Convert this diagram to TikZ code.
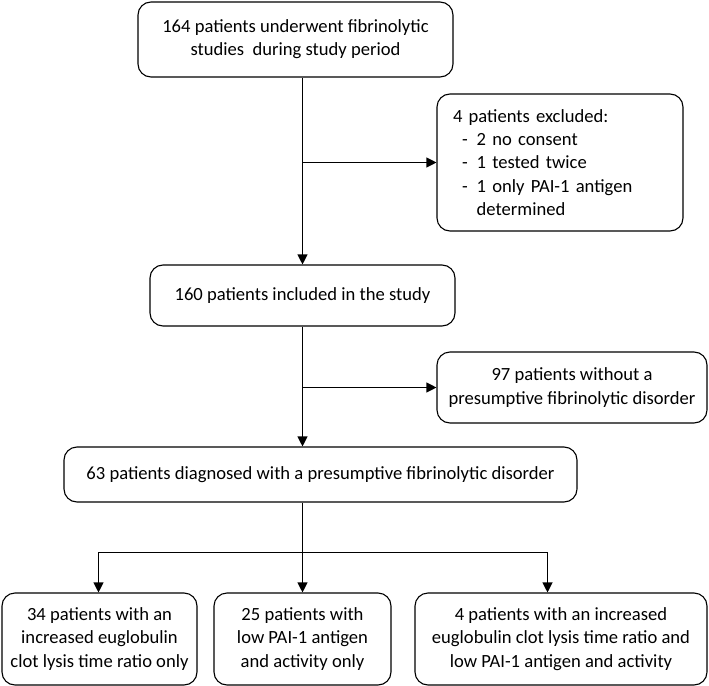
\documentclass[tikz,border=0pt]{standalone}
\usepackage{fontspec}
\setmainfont{Carlito}
\usetikzlibrary{arrows.meta}
\begin{document}
\begin{tikzpicture}[x=1bp,y=-1bp,
  box/.style={draw, line width=1.1bp, rounded corners=13bp, align=center, inner sep=0pt,
    font=\fontsize{18.6bp}{23.2bp}\selectfont},
  arr/.style={line width=1.1bp, -{Triangle[length=10bp,width=10bp]}},
  ln/.style={line width=1.1bp}]
\useasboundingbox (0,0) rectangle (709,686);
\node[box, minimum width=315bp, minimum height=75bp] (b1) at (295.5,39.5)
  {164 patients underwent fibrinolytic\\studies\ \ during study period};
\node[box, minimum width=246bp, minimum height=137bp, text width=214bp, inner xsep=16bp, align=left] (b3) at (560,162.5)
  {4 patients excluded:\\
   \hspace*{9bp}-\hspace{9bp}2 no consent\\
   \hspace*{9bp}-\hspace{9bp}1 tested twice\\
   \hspace*{9bp}-\hspace{9bp}1 only PAI-1 antigen\\
   \hspace*{9bp}\phantom{-}\hspace{9bp}determined};
\node[box, minimum width=305bp, minimum height=61bp] (b2) at (302.5,295.5)
  {160 patients included in the study};
\node[box, minimum width=270bp, minimum height=71bp] (b5) at (572,387.5)
  {97 patients without a\\presumptive fibrinolytic disorder};
\node[box, minimum width=513bp, minimum height=55bp] (b4) at (320.5,474.5)
  {63 patients diagnosed with a presumptive fibrinolytic disorder};
\node[box, minimum width=195bp, minimum height=92bp] (b6) at (99.5,639)
  {34 patients with an\\increased euglobulin\\clot lysis time ratio only};
\node[box, minimum width=177bp, minimum height=92bp] (b7) at (302.5,639)
  {25 patients with\\low PAI-1 antigen\\and activity only};
\node[box, minimum width=292bp, minimum height=92bp] (b8) at (561,639)
  {4 patients with an increased\\euglobulin clot lysis time ratio and\\low PAI-1 antigen and activity};
\coordinate (j) at (302.5,552.5);
\coordinate (jl) at (98.5,552.5);
\coordinate (jr) at (547.5,552.5);
\draw[arr] (b1.south -| b2.north) -- (b2.north);
\draw[arr] (b3.west -| b2.north) -- (b3.west);
\draw[arr] (b2.south) -- (b2.south |- b4.north);
\draw[arr] (b5.west -| b2.south) -- (b5.west);
\draw[ln] (b4.south -| j) -- (j);
\draw[arr] (j) -- (jl) -- (jl |- b6.north);
\draw[arr] (j) -- (jr) -- (jr |- b8.north);
\draw[arr] (j) -- (b7.north);
\end{tikzpicture}
\end{document}
